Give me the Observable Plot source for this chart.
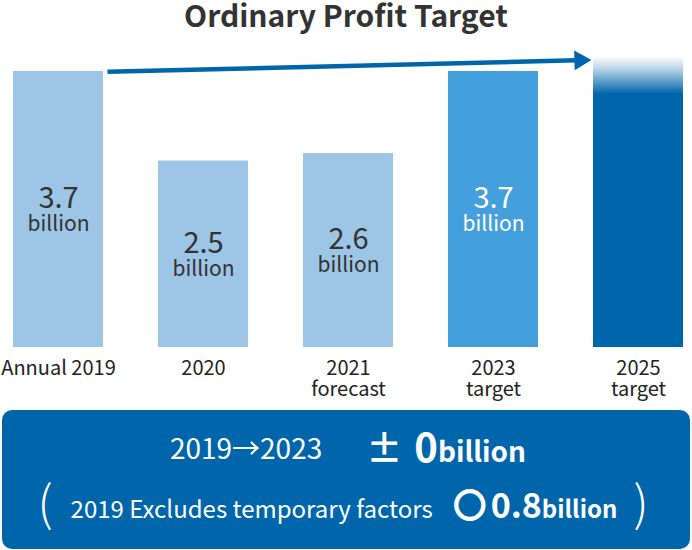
<!DOCTYPE html>
<html>
<head>
<meta charset="utf-8">
<script src="https://cdn.jsdelivr.net/npm/d3@7"></script>
<script src="https://cdn.jsdelivr.net/npm/@observablehq/plot@0.6"></script>
<style>
  html, body { margin: 0; padding: 0; background: #fff; }
  body { width: 692px; height: 550px; overflow: hidden; position: relative;
         font-family: "Noto Sans CJK JP", "Noto Sans", sans-serif; }
  #title { position: absolute; left: 0; top: 0; width: 692px; height: 30px; line-height: 28px;
           text-align: center; font-size: 30px; font-weight: 700; color: #333; }
  #chart { position: absolute; left: 0; top: 30px; width: 692px; height: 375px; }
  #box { position: absolute; left: 2px; top: 410px; width: 688px; height: 139px;
         background: #0066ab; border-radius: 10px; color: #fff; }
  .row { position: absolute; left: 0; right: 0; display: flex; justify-content: center;
         align-items: baseline; white-space: nowrap; }
  #r1 { top: 13px; height: 44px; line-height: 44px; padding-left: 4px; }
  #r2 { top: 62px; height: 50px; line-height: 50px; padding-right: 6px; }
  .reg { font-weight: 400; }
  .bold { font-weight: 700; }
</style>
</head>
<body>
<div id="title"></div>
<div id="chart"></div>
<div id="box">
  <div class="row" id="r1">
    <span class="reg" id="r1a" style="font-size:28px; position:relative; top:-3px;"></span>
    <span class="bold" id="r1pm" style="font-size:36px; margin-left:44px;"></span>
    <span class="bold" id="r1v" style="font-size:40px; margin-left:12px;"></span>
    <span class="bold" id="r1u" style="font-size:28px;"></span>
  </div>
  <div class="row" id="r2">
    <span class="reg" id="r2l" style="font-size:48px; font-weight:300; position:relative; top:3px; margin-right:18px;"></span>
    <span class="reg" id="r2a" style="font-size:24px;"></span>
    <span class="bold" id="r2c" style="font-size:34px; margin-left:20px;"></span>
    <span class="bold" id="r2v" style="font-size:34px; margin-left:4px;"></span>
    <span class="bold" id="r2u" style="font-size:24px;"></span>
    <span class="reg" id="r2r" style="font-size:48px; font-weight:300; position:relative; top:3px; margin-left:16px;"></span>
  </div>
</div>
<script>
// ---- data ----
const titleText = "Ordinary Profit Target";
const categories = ["Annual 2019", "2020", "2021\nforecast", "2023\ntarget", "2025\ntarget"];
const values = [3.7, 2.5, 2.6, 3.7, 3.9];
const valueLabels = ["3.7", "2.5", "2.6", "3.7", null];
const unitLabel = "billion";
const highlightCategory = "2023\ntarget";
const trendStart = ["Annual 2019", 3.68];
const trendEnd = ["2025\ntarget", 3.87];
const summaryPeriod = "2019→2023";
const summarySign = "±";
const summaryValue = "0";
const adjustedText = "2019 Excludes temporary factors";
const adjustedMark = "〇";
const adjustedValue = "0.8";

// ---- styles ----
const FONT = '"Noto Sans CJK JP", "Noto Sans", sans-serif';
const DARK = "#0066ab";
const barColors = ["#9cc5e6", "#9cc5e6", "#9cc5e6", "#44a0dd", "url(#fade2025)"];

document.getElementById("title").textContent = titleText;
document.getElementById("r1a").textContent = summaryPeriod;
document.getElementById("r1pm").textContent = summarySign;
document.getElementById("r1v").textContent = summaryValue;
document.getElementById("r1u").textContent = unitLabel;
document.getElementById("r2l").textContent = "(";
document.getElementById("r2a").textContent = adjustedText;
document.getElementById("r2c").textContent = adjustedMark;
document.getElementById("r2v").textContent = adjustedValue;
document.getElementById("r2u").textContent = unitLabel;
document.getElementById("r2r").textContent = ")";

const data = categories.map((c, i) => ({category: c, value: values[i], label: valueLabels[i]}));
const labeled = data.filter(d => d.label);
const trend = [{x1: trendStart[0], y1: trendStart[1], x2: trendEnd[0], y2: trendEnd[1]}];

function gradientDefs() {
  const ns = "http://www.w3.org/2000/svg";
  const defs = document.createElementNS(ns, "defs");
  defs.innerHTML =
    `<linearGradient id="fade2025" x1="0" y1="0" x2="0" y2="1">
       <stop offset="0" stop-color="${DARK}" stop-opacity="0"/>
       <stop offset="0.04" stop-color="${DARK}" stop-opacity="0.25"/>
       <stop offset="0.13" stop-color="${DARK}" stop-opacity="1"/>
       <stop offset="1" stop-color="${DARK}" stop-opacity="1"/>
     </linearGradient>`;
  return defs;
}

const normal = labeled.filter(d => d.category !== highlightCategory);
const highlight = labeled.filter(d => d.category === highlightCategory);

const chart = Plot.plot({
  width: 692,
  height: 375,
  marginTop: 41,
  marginBottom: 58,
  marginLeft: 12,
  marginRight: 9,
  style: {fontFamily: FONT, fontSize: "20px", color: "#222", background: "transparent", overflow: "visible"},
  x: {type: "band", domain: categories, paddingInner: 0.38, paddingOuter: 0, label: null},
  y: {domain: [0, 3.7], axis: null},
  color: {type: "ordinal", domain: categories, range: barColors},
  marks: [
    gradientDefs,
    Plot.barY(data, {x: "category", y: "value", fill: "category"}),
    Plot.axisX({tickSize: 0, tickPadding: 12, fontSize: 20, lineHeight: 1.08, fill: "#222"}),
    Plot.text(normal, {x: "category", y: d => d.value / 2, text: "label", dy: -11, fontSize: 29, fontWeight: 400, fill: "#333"}),
    Plot.text(normal, {x: "category", y: d => d.value / 2, text: () => unitLabel, dy: 15, fontSize: 21, fontWeight: 400, fill: "#333"}),
    Plot.text(highlight, {x: "category", y: d => d.value / 2, text: "label", dy: -11, fontSize: 29, fontWeight: 400, fill: "#fff"}),
    Plot.text(highlight, {x: "category", y: d => d.value / 2, text: () => unitLabel, dy: 15, fontSize: 21, fontWeight: 400, fill: "#fff"}),
    Plot.arrow(trend, {x1: "x1", y1: "y1", x2: "x2", y2: "y2", stroke: DARK, strokeWidth: 4.5,
      headLength: 0, insetStart: 49, insetEnd: 62, strokeLinecap: "butt"}),
    Plot.dot(trend, {x: "x2", y: "y2", symbol: "triangle", r: 7.3, rotate: 88.5, fill: DARK, stroke: null,
      dx: -58.4, dy: 1.4})
  ]
});
document.getElementById("chart").appendChild(chart);
</script>
</body>
</html>
